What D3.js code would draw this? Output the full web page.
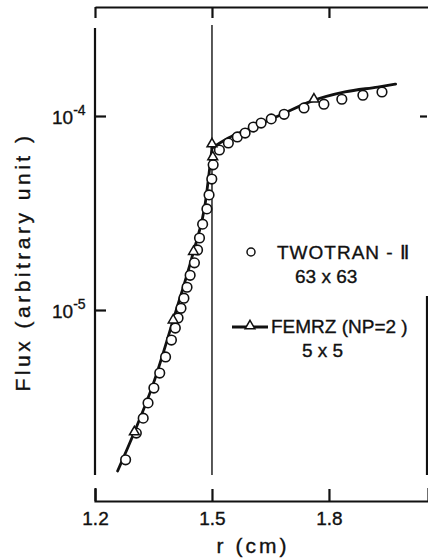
<!DOCTYPE html>
<html lang="en">
<head>
<meta charset="UTF-8">
<title>Flux vs r</title>
<script src="https://cdnjs.cloudflare.com/ajax/libs/d3/7.8.5/d3.min.js"></script>
<style>
  body { margin: 0; background: #fff; }
  svg text { font-family: "Liberation Sans", Arial, sans-serif; fill: #111; stroke: #111; stroke-width: 0.35; }
  .axis path, .axis line { stroke: #111; stroke-width: 2.2; }
  .frame { stroke: #111; stroke-width: 2.2; fill: none; }
</style>
</head>
<body>
<div id="chart"></div>
<script>
// TWOTRAN-II 63x63 (open circles)
const twotranR = [1.2785, 1.306, 1.3236, 1.336, 1.351, 1.366, 1.381, 1.396, 1.406, 1.413,
                  1.4205, 1.428, 1.436, 1.444, 1.455, 1.463, 1.468, 1.476, 1.487, 1.4925,
                  1.4995, 1.503, 1.519, 1.542, 1.565, 1.585, 1.606, 1.626, 1.652, 1.685,
                  1.736, 1.787, 1.833, 1.887, 1.936];
const twotranFlux = [1.69e-6, 2.32e-6, 2.77e-6, 3.32e-6, 3.96e-6, 4.73e-6, 5.73e-6, 7.0e-6, 8.07e-6, 9.1e-6,
                     1.02e-5, 1.15e-5, 1.31e-5, 1.51e-5, 1.75e-5, 2.04e-5, 2.35e-5, 2.77e-5, 3.32e-5, 3.92e-5,
                     4.73e-5, 5.6e-5, 6.68e-5, 7.26e-5, 7.8e-5, 8.17e-5, 8.77e-5, 9.2e-5, 9.66e-5, 1.02e-4,
                     1.10e-4, 1.15e-4, 1.22e-4, 1.28e-4, 1.33e-4];

// FEMRZ (NP=2) 5x5 (open triangles)
const femrzR = [1.301, 1.4005, 1.4526, 1.5, 1.502, 1.7615];
const femrzFlux = [2.35e-6, 8.87e-6, 2.0e-5, 7.17e-5, 6.15e-5, 1.22e-4];

// FEMRZ solid curve, inner region and outer region
const curveInnerR = [1.258, 1.301, 1.35, 1.4005, 1.4526, 1.482, 1.5];
const curveInnerFlux = [1.48e-6, 2.35e-6, 4.2e-6, 8.87e-6, 2.0e-5, 3.47e-5, 6.84e-5];
const curveOuterR = [1.5, 1.542, 1.593, 1.670, 1.754, 1.841, 1.925, 1.971];
const curveOuterFlux = [6.84e-5, 7.7e-5, 8.57e-5, 1.0e-4, 1.19e-4, 1.33e-4, 1.41e-4, 1.46e-4];

const xTicks = [1.2, 1.5, 1.8];
const xTickLabels = ["1.2", "1.5", "1.8"];
const yTicks = [1e-4, 1e-5];
const yTickLabels = [["10", "-4"], ["10", "-5"]];
const interfaceR = 1.5;

const width = 428, height = 558;
const frameTop = 7, frameBottom = 501, innerTop = 28, innerBottom = 475;

const svg = d3.select("#chart").append("svg")
    .attr("width", width)
    .attr("height", height);

const x = d3.scaleLinear().domain([1.2, 2.054]).range([95, 428]);
const y = d3.scaleLog().domain([1e-5, 1e-4]).range([310, 116]);

// bottom axis
const bottomAxis = svg.append("g")
    .attr("class", "axis")
    .attr("transform", `translate(0,${frameBottom})`)
    .call(d3.axisBottom(x).tickValues(xTicks)
        .tickSizeInner(-12).tickSizeOuter(-13).tickPadding(11)
        .tickFormat((d, i) => xTickLabels[i]));
bottomAxis.selectAll("text").attr("font-size", 19).style("font-family", "Liberation Sans, Arial, sans-serif");

// top axis
svg.append("g")
    .attr("class", "axis")
    .attr("transform", `translate(0,${frameTop})`)
    .call(d3.axisTop(x).tickValues(xTicks).tickSizeInner(-11).tickSizeOuter(0).tickFormat(""));

// left axis: line with a gap under the top corner
svg.append("line").attr("class", "frame")
    .attr("x1", x(1.2)).attr("x2", x(1.2))
    .attr("y1", innerTop).attr("y2", innerBottom);
const leftAxis = svg.append("g")
    .attr("class", "axis")
    .attr("transform", `translate(${x(1.2)},0)`)
    .call(d3.axisLeft(y).tickValues(yTicks).tickSize(-11));
leftAxis.select(".domain").remove();
leftAxis.selectAll(".tick text").each(function(d, i) {
    const t = d3.select(this).text("")
        .attr("text-anchor", "start").attr("x", -43).attr("dy", null).attr("y", 7)
        .attr("font-size", 19).style("font-family", "Liberation Sans, Arial, sans-serif");
    t.append("tspan").text(yTickLabels[i][0]);
    t.append("tspan").attr("dy", -9).attr("font-size", 14).text(yTickLabels[i][1]);
});

// right side: partial line and tick
svg.append("line").attr("class", "frame")
    .attr("x1", width - 1).attr("x2", width - 1)
    .attr("y1", 296).attr("y2", innerBottom);
const rightAxis = svg.append("g")
    .attr("class", "axis")
    .attr("transform", `translate(${width - 1},0)`)
    .call(d3.axisRight(y).tickValues([1e-4]).tickSize(-7).tickFormat(""));
rightAxis.select(".domain").remove();

// interface line at r = 1.5
svg.append("line")
    .attr("x1", x(interfaceR)).attr("x2", x(interfaceR))
    .attr("y1", 25).attr("y2", innerBottom)
    .attr("stroke", "#111").attr("stroke-width", 1.4);

// FEMRZ curve
const line = d3.line()
    .x(d => x(d[0])).y(d => y(d[1]))
    .curve(d3.curveMonotoneX);
[[curveInnerR, curveInnerFlux], [curveOuterR, curveOuterFlux]].forEach(([rs, fs]) => {
    svg.append("path")
        .datum(rs.map((r, i) => [r, fs[i]]))
        .attr("d", line)
        .attr("fill", "none")
        .attr("stroke", "#111")
        .attr("stroke-width", 2.8)
        .attr("stroke-linecap", "round");
});

// TWOTRAN circles
svg.append("g").selectAll("circle")
    .data(twotranR.map((r, i) => [r, twotranFlux[i]]))
    .join("circle")
    .attr("cx", d => x(d[0])).attr("cy", d => y(d[1]))
    .attr("r", 4.8)
    .attr("fill", "#fff").attr("stroke", "#111").attr("stroke-width", 1.6);

// FEMRZ triangles
const tri = d3.symbol(d3.symbolTriangle, 42);
svg.append("g").selectAll("path")
    .data(femrzR.map((r, i) => [r, femrzFlux[i]]))
    .join("path")
    .attr("d", tri)
    .attr("transform", d => `translate(${x(d[0])},${y(d[1])})`)
    .attr("fill", "#fff").attr("stroke", "#111").attr("stroke-width", 1.5);

// axis titles
svg.append("text")
    .attr("transform", "translate(30,262) rotate(-90)")
    .attr("text-anchor", "middle")
    .attr("font-size", 21)
    .attr("letter-spacing", 3.5)
    .text("Flux (arbitrary unit )");
svg.append("text")
    .attr("x", 253).attr("y", 553)
    .attr("text-anchor", "middle")
    .attr("font-size", 21)
    .attr("letter-spacing", 3)
    .text("r (cm)");

// legend
const legend = svg.append("g");
legend.append("circle")
    .attr("cx", 251).attr("cy", 252).attr("r", 4)
    .attr("fill", "#fff").attr("stroke", "#111").attr("stroke-width", 1.5);
legend.append("text").attr("x", 277).attr("y", 259)
    .attr("font-size", 19).attr("letter-spacing", 1).text("TWOTRAN - Ⅱ");
legend.append("text").attr("x", 295).attr("y", 283)
    .attr("font-size", 19).text("63 x 63");
legend.append("line")
    .attr("x1", 232).attr("x2", 268).attr("y1", 327).attr("y2", 327)
    .attr("stroke", "#111").attr("stroke-width", 2.8);
legend.append("path")
    .attr("d", tri)
    .attr("transform", "translate(250,326)")
    .attr("fill", "#fff").attr("stroke", "#111").attr("stroke-width", 1.5);
legend.append("text").attr("x", 271).attr("y", 333)
    .attr("font-size", 19).text("FEMRZ (NP=2 )");
legend.append("text").attr("x", 302).attr("y", 357)
    .attr("font-size", 19).text("5 x 5");
</script>
</body>
</html>
